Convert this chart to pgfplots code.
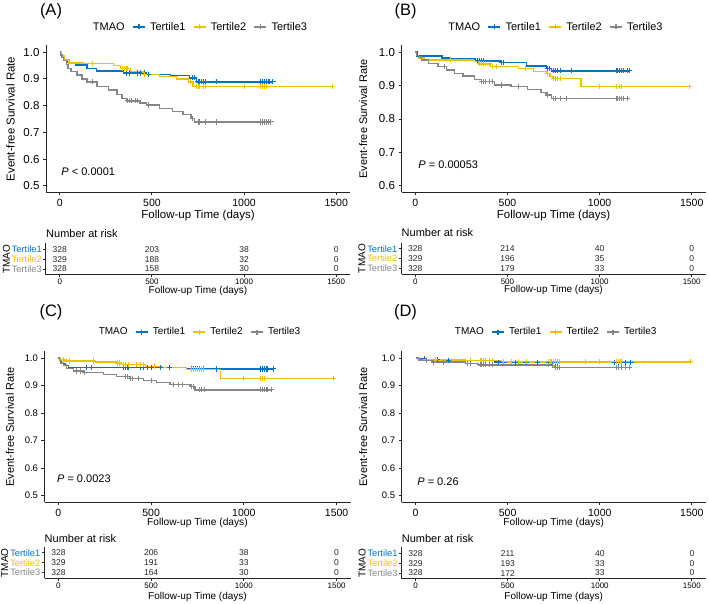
\documentclass[border=0pt]{standalone}
\usepackage{fontspec}
\setmainfont{Liberation Sans}
\usepackage{pgfplots}
\pgfplotsset{compat=1.18}

\definecolor{t1}{HTML}{0073C2}
\definecolor{t2}{HTML}{EFC000}
\definecolor{t3}{HTML}{868686}
\newcommand{\fs}[1]{\fontsize{#1}{#1}\selectfont}

\pgfplotsset{
  base/.style={scale only axis, xmin=-75, xmax=1575, axis lines=left,
    axis line style={-, line width=1pt, black!85},
    tick align=outside, major tick length=3pt,
    tick style={line width=0.9pt, black!85},
    xtick={0,500,1000,1500}, xticklabels={0,500,1000,1500},
    xticklabel style={inner sep=1pt}, label style={inner sep=1pt}},
  km/.style={base,
    legend columns=4,
    legend style={draw=none, fill=none, at={(0.5,1)}, anchor=center,
      nodes={inner sep=0.5pt},
      /tikz/every odd column/.append style={column sep=4pt},
      /tikz/every even column/.append style={column sep=7pt}},
    xlabel={Follow-up Time (days)}, ylabel={Event-free Survival Rate},
    label style={font=\fs{11.5}}},
  risk/.style={base, ymin=0.4, ymax=3.6, ytick={1,2,3}, major tick length=2.5pt,
    yticklabels={\textcolor{t3}{Tertile3},\textcolor{t2}{Tertile2},\textcolor{t1}{Tertile1}},
    x tick label style={font=\fs{8}, yshift=-0.5pt}, y tick label style={font=\fs{9.3}, inner sep=1.5pt},
    xlabel={Follow-up Time (days)}, ylabel={TMAO},
    xlabel style={font=\fs{10}}, ylabel style={font=\fs{10}, at={(axis description cs:-0.13,0.5)}, anchor=center},
    title={Number at risk}, every axis title shift=0pt,
    title style={at={(axis description cs:0,1)}, anchor=west, inner sep=0pt, font=\fs{11}}},
  kmleg/.style={color=#1, line width=1.3pt, mark=+, mark size=2.5pt,
    legend image code/.code={\draw[mark repeat=2,mark phase=2,##1] plot coordinates {(0pt,0pt) (6pt,0pt) (12pt,0pt)};}},
  step/.style={const plot, line width=1.4pt, color=#1, forget plot},
  cens/.style={only marks, mark=+, mark size=2.6pt, line width=1pt, color=#1, forget plot},
  nums/.style={draw=none, mark=none, forget plot,
    nodes near coords, point meta=explicit symbolic,
    nodes near coords style={anchor=center, font=\fs{8.5}, text=black!85, inner sep=0pt}}
}

\newcommand{\kmlegend}{%
  \addlegendimage{empty legend}\addlegendentry{TMAO}
  \addlegendimage{kmleg=t1}\addlegendentry{Tertile1}
  \addlegendimage{kmleg=t2}\addlegendentry{Tertile2}
  \addlegendimage{kmleg=t3}\addlegendentry{Tertile3}}

\begin{document}
\begin{tikzpicture}
\useasboundingbox (0pt,0pt) rectangle (709pt,604pt);

% ---------------- (A) ----------------
\begin{axis}[km, at={(46pt,411.5pt)}, anchor=south west, width=304pt, height=147pt,
  ymin=0.475, ymax=1.025, ytick={0.5,0.6,0.7,0.8,0.9,1.0}, yticklabels={0.5,0.6,0.7,0.8,0.9,1.0},
  x tick label style={font=\fs{10.5}, yshift=-2.5pt}, y tick label style={font=\fs{11.5}},
  xlabel style={at={(axis description cs:0.5,-0.16)}, anchor=center},
  ylabel style={at={(axis description cs:-0.117,0.5)}, anchor=center},
  legend style={yshift=18.5pt, font=\fs{11}}]
\kmlegend
\addplot[step=t1] coordinates {(0,1.0) (8,0.985) (20,0.972) (45,0.961) (85,0.952) (148,0.94) (200,0.93) (345,0.922) (470,0.916) (600,0.912) (705,0.904) (741,0.889) (1157,0.889)};
\addplot[cens=t1] coordinates {(360,0.922) (380,0.922) (420,0.922) (440,0.922) (460,0.922) (480,0.916) (720,0.904) (730,0.904) (750,0.889) (760,0.889) (770,0.889) (780,0.889) (790,0.889) (850,0.889) (1090,0.889) (1100,0.889) (1110,0.889) (1120,0.889) (1130,0.889) (1140,0.889) (1157,0.889)};
\addplot[step=t2] coordinates {(0,1.0) (10,0.985) (25,0.97) (49,0.96) (130,0.957) (290,0.95) (330,0.938) (382,0.928) (452,0.917) (542,0.908) (632,0.9) (700,0.889) (722,0.871) (1479,0.871)};
\addplot[cens=t2] coordinates {(180,0.957) (340,0.938) (350,0.938) (360,0.938) (370,0.938) (460,0.917) (710,0.889) (740,0.871) (750,0.871) (760,0.871) (780,0.871) (790,0.871) (1000,0.871) (1090,0.871) (1100,0.871) (1110,0.871) (1120,0.871) (1479,0.871)};
\addplot[step=t3] coordinates {(0,1.0) (5,0.99) (12,0.98) (20,0.968) (35,0.955) (45,0.94) (60,0.927) (94,0.915) (120,0.9) (148,0.889) (202,0.871) (265,0.858) (310,0.842) (337,0.826) (364,0.818) (436,0.81) (472,0.802) (542,0.79) (612,0.778) (668,0.766) (713,0.752) (731,0.739) (1146,0.739)};
\addplot[cens=t3] coordinates {(180,0.889) (370,0.818) (380,0.818) (390,0.818) (410,0.818) (420,0.818) (480,0.802) (720,0.752) (750,0.739) (760,0.739) (790,0.739) (850,0.739) (1090,0.739) (1100,0.739) (1110,0.739) (1120,0.739) (1130,0.739) (1146,0.739)};
\node[anchor=west, inner sep=0pt, font=\fs{11}] at (axis cs:8,0.552) {\textit{P} < 0.0001};
\end{axis}
\begin{axis}[risk, at={(46pt,329pt)}, anchor=south west, width=304pt, height=31.7pt,
  xlabel style={at={(axis description cs:0.5,-0.5)}, anchor=center},
  title style={yshift=10pt}]
\addplot[nums] coordinates {(0,3)[328] (500,3)[203] (1000,3)[38] (1500,3)[0]
  (0,2)[329] (500,2)[188] (1000,2)[32] (1500,2)[0]
  (0,1)[328] (500,1)[158] (1000,1)[30] (1500,1)[0]};
\end{axis}
\node[font=\fs{16.5}] at (51pt,593pt) {(A)};

% ---------------- (B) ----------------
\begin{axis}[km, at={(401.5pt,411.5pt)}, anchor=south west, width=304pt, height=147pt,
  ymin=0.58, ymax=1.02, ytick={0.6,0.7,0.8,0.9,1.0}, yticklabels={0.6,0.7,0.8,0.9,1.0},
  x tick label style={font=\fs{10.5}, yshift=-2.5pt}, y tick label style={font=\fs{11.5}},
  xlabel style={at={(axis description cs:0.5,-0.16)}, anchor=center},
  ylabel style={at={(axis description cs:-0.126,0.5)}, anchor=center, font=\fs{11}},
  legend style={yshift=18.5pt, font=\fs{11}}]
\kmlegend
\addplot[step=t1] coordinates {(0,1.0) (10,0.989) (144,0.983) (186,0.979) (326,0.974) (468,0.969) (603,0.959) (711,0.952) (738,0.944) (1161,0.944)};
\addplot[cens=t1] coordinates {(190,0.979) (340,0.974) (350,0.974) (360,0.974) (370,0.974) (470,0.969) (480,0.969) (720,0.952) (730,0.952) (750,0.944) (760,0.944) (770,0.944) (790,0.944) (850,0.944) (1090,0.944) (1100,0.944) (1110,0.944) (1120,0.944) (1130,0.944) (1150,0.944) (1161,0.944)};
\addplot[step=t2] coordinates {(0,1.0) (8,0.99) (16,0.982) (50,0.977) (317,0.972) (344,0.965) (407,0.957) (560,0.952) (641,0.942) (711,0.937) (730,0.927) (745,0.922) (900,0.897) (1486,0.897)};
\addplot[cens=t2] coordinates {(190,0.977) (350,0.965) (360,0.965) (370,0.965) (380,0.965) (400,0.965) (420,0.957) (440,0.957) (600,0.952) (720,0.937) (750,0.922) (760,0.922) (770,0.922) (790,0.922) (1000,0.897) (1090,0.897) (1110,0.897) (1120,0.897) (1486,0.897)};
\addplot[step=t3] coordinates {(0,1.0) (5,0.99) (16,0.985) (34,0.977) (70,0.967) (124,0.957) (169,0.947) (214,0.937) (259,0.929) (322,0.919) (358,0.912) (430,0.902) (520,0.897) (610,0.889) (682,0.879) (709,0.872) (738,0.862) (1152,0.862)};
\addplot[cens=t3] coordinates {(160,0.957) (360,0.912) (370,0.912) (380,0.912) (400,0.912) (420,0.912) (470,0.902) (560,0.897) (720,0.872) (750,0.862) (760,0.862) (790,0.862) (820,0.862) (1090,0.862) (1100,0.862) (1110,0.862) (1120,0.862) (1130,0.862) (1152,0.862)};
\node[anchor=west, inner sep=0pt, font=\fs{11}] at (axis cs:16,0.664) {\textit{P} = 0.00053};
\end{axis}
\begin{axis}[risk, at={(401.5pt,329.5pt)}, anchor=south west, width=304pt, height=31.7pt,
  xlabel style={at={(axis description cs:0.5,-0.5)}, anchor=center},
  title style={yshift=10pt}]
\addplot[nums] coordinates {(0,3)[328] (500,3)[214] (1000,3)[40] (1500,3)[0]
  (0,2)[329] (500,2)[196] (1000,2)[35] (1500,2)[0]
  (0,1)[328] (500,1)[179] (1000,1)[33] (1500,1)[0]};
\end{axis}
\node[font=\fs{16.5}] at (405.5pt,593pt) {(B)};

% ---------------- (C) ----------------
\begin{axis}[km, at={(44.5pt,101.6pt)}, anchor=south west, width=306pt, height=151.3pt,
  ymin=0.475, ymax=1.025, ytick={0.5,0.6,0.7,0.8,0.9,1.0}, yticklabels={0.5,0.6,0.7,0.8,0.9,1.0},
  x tick label style={font=\fs{10.5}, yshift=-3pt}, y tick label style={font=\fs{9.5}},
  xlabel style={at={(axis description cs:0.5,-0.137)}, anchor=center, font=\fs{10.2}},
  ylabel style={at={(axis description cs:-0.113,0.5)}, anchor=center, font=\fs{11}},
  legend style={yshift=19pt, font=\fs{10}}]
\kmlegend
\addplot[step=t1] coordinates {(0,1.0) (8,0.99) (18,0.98) (35,0.972) (54,0.965) (690,0.96) (1158,0.96)};
\addplot[cens=t1] coordinates {(150,0.965) (180,0.965) (350,0.965) (360,0.965) (370,0.965) (380,0.965) (440,0.965) (460,0.965) (480,0.965) (500,0.965) (550,0.965) (600,0.965) (720,0.96) (730,0.96) (740,0.96) (750,0.96) (760,0.96) (780,0.96) (850,0.96) (1090,0.96) (1100,0.96) (1110,0.96) (1120,0.96) (1130,0.96) (1158,0.96)};
\addplot[step=t2] coordinates {(0,1.0) (8,0.993) (36,0.989) (200,0.985) (310,0.982) (340,0.976) (470,0.97) (560,0.965) (690,0.958) (875,0.926) (1482,0.926)};
\addplot[cens=t2] coordinates {(30,0.993) (60,0.989) (190,0.989) (320,0.982) (330,0.982) (350,0.976) (360,0.976) (380,0.976) (420,0.976) (440,0.976) (460,0.976) (520,0.97) (720,0.958) (730,0.958) (740,0.958) (750,0.958) (760,0.958) (770,0.958) (780,0.958) (1000,0.926) (1090,0.926) (1100,0.926) (1110,0.926) (1482,0.926)};
\addplot[step=t3] coordinates {(0,1.0) (5,0.99) (12,0.982) (27,0.975) (45,0.962) (81,0.953) (135,0.947) (243,0.94) (314,0.932) (386,0.926) (458,0.919) (530,0.911) (602,0.903) (710,0.896) (737,0.884) (1150,0.884)};
\addplot[cens=t3] coordinates {(100,0.953) (120,0.953) (140,0.947) (360,0.932) (370,0.932) (390,0.926) (400,0.926) (430,0.926) (500,0.919) (620,0.903) (650,0.903) (670,0.903) (720,0.896) (730,0.896) (760,0.884) (770,0.884) (790,0.884) (1090,0.884) (1100,0.884) (1110,0.884) (1120,0.884) (1130,0.884) (1150,0.884)};
\node[anchor=west, inner sep=0pt, font=\fs{11}] at (axis cs:-8,0.56) {\textit{P} = 0.0023};
\end{axis}
\begin{axis}[risk, at={(44.5pt,25.5pt)}, anchor=south west, width=306pt, height=31.5pt,
  xlabel style={at={(axis description cs:0.5,-0.6)}, anchor=center},
  title style={yshift=8.7pt}]
\addplot[nums] coordinates {(0,3)[328] (500,3)[206] (1000,3)[38] (1500,3)[0]
  (0,2)[329] (500,2)[191] (1000,2)[33] (1500,2)[0]
  (0,1)[328] (500,1)[164] (1000,1)[30] (1500,1)[0]};
\end{axis}
\node[font=\fs{16.5}] at (51pt,292pt) {(C)};

% ---------------- (D) ----------------
\begin{axis}[km, at={(401.7pt,101.6pt)}, anchor=south west, width=304pt, height=151.3pt,
  ymin=0.475, ymax=1.025, ytick={0.5,0.6,0.7,0.8,0.9,1.0}, yticklabels={0.5,0.6,0.7,0.8,0.9,1.0},
  x tick label style={font=\fs{10.5}, yshift=-3pt}, y tick label style={font=\fs{9.5}},
  xlabel style={at={(axis description cs:0.5,-0.137)}, anchor=center, font=\fs{10.2}},
  ylabel style={at={(axis description cs:-0.127,0.5)}, anchor=center, font=\fs{11}},
  legend style={yshift=19pt, font=\fs{10}}]
\kmlegend
\addplot[step=t1] coordinates {(0,1.0) (20,0.997) (54,0.995) (144,0.99) (432,0.985) (1169,0.985)};
\addplot[cens=t1] coordinates {(50,0.997) (120,0.995) (180,0.99) (360,0.99) (370,0.99) (380,0.99) (400,0.99) (420,0.99) (450,0.985) (480,0.985) (540,0.985) (600,0.985) (660,0.985) (720,0.985) (740,0.985) (760,0.985) (770,0.985) (1080,0.985) (1100,0.985) (1120,0.985) (1140,0.985) (1169,0.985)};
\addplot[step=t2] coordinates {(0,1.0) (20,0.995) (100,0.993) (270,0.99) (468,0.986) (1490,0.986)};
\addplot[cens=t2] coordinates {(60,0.995) (110,0.993) (300,0.99) (350,0.99) (360,0.99) (370,0.99) (380,0.99) (400,0.99) (420,0.99) (480,0.986) (520,0.986) (560,0.986) (600,0.986) (720,0.986) (730,0.986) (740,0.986) (750,0.986) (760,0.986) (770,0.986) (780,0.986) (920,0.986) (1000,0.986) (1090,0.986) (1100,0.986) (1110,0.986) (1120,0.986) (1490,0.986)};
\addplot[step=t3] coordinates {(0,1.0) (15,0.993) (36,0.99) (90,0.985) (270,0.98) (342,0.975) (738,0.972) (756,0.966) (1160,0.966)};
\addplot[cens=t3] coordinates {(60,0.99) (100,0.985) (150,0.985) (280,0.98) (300,0.98) (350,0.975) (360,0.975) (370,0.975) (380,0.975) (400,0.975) (420,0.975) (720,0.975) (745,0.972) (760,0.966) (770,0.966) (780,0.966) (1090,0.966) (1100,0.966) (1120,0.966) (1140,0.966) (1160,0.966)};
\node[anchor=west, inner sep=0pt, font=\fs{11}] at (axis cs:9,0.55) {\textit{P} = 0.26};
\end{axis}
\begin{axis}[risk, at={(401.7pt,25pt)}, anchor=south west, width=304pt, height=31.7pt,
  xlabel style={at={(axis description cs:0.5,-0.58)}, anchor=center},
  title style={yshift=9.2pt}]
\addplot[nums] coordinates {(0,3)[328] (500,3)[211] (1000,3)[40] (1500,3)[0]
  (0,2)[329] (500,2)[193] (1000,2)[33] (1500,2)[0]
  (0,1)[328] (500,1)[172] (1000,1)[33] (1500,1)[0]};
\end{axis}
\node[font=\fs{16.5}] at (405.5pt,292pt) {(D)};

\end{tikzpicture}
\end{document}
